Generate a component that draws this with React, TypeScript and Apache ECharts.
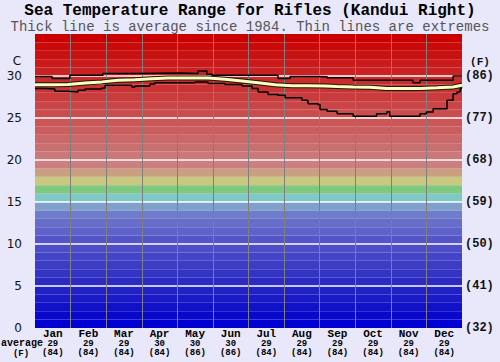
import React, { useEffect, useRef } from "react";
import * as echarts from "echarts";

const months = ["Jan", "Feb", "Mar", "Apr", "May", "Jun", "Jul", "Aug", "Sep", "Oct", "Nov", "Dec"];
const monthAvgC = [29, 29, 29, 30, 30, 30, 29, 29, 29, 29, 29, 29];
const monthAvgF = [84, 84, 84, 84, 86, 86, 84, 84, 84, 84, 84, 84];
const fahrenheitTicks = ["(32)", "(41)", "(50)", "(59)", "(68)", "(77)", "(86)"];

const maxPos = [0, 0.48, 0.98, 1.91, 2.81, 4.08, 4.58, 4.83, 4.97, 6.83, 7.17, 7.87, 8.21, 8.94, 10.62, 10.82, 11.75, 12];
const maxTemp = [29.95, 29.7, 30.08, 30.3, 30.35, 30.3, 30.6, 30.2, 30.1, 29.7, 29.95, 29.9, 29.8, 29.5, 29.2, 29.5, 30.0, 30.0];

const avgPos = [0, 0.56, 0.93, 1.41, 1.88, 2.33, 2.81, 3.29, 3.74, 4.08, 4.86, 5.34, 5.82, 6.27, 6.75, 7.22, 7.67, 8.15, 8.49, 8.94, 9.42, 9.89, 10.34, 10.82, 11.3, 11.75, 12];
const avgTemp = [28.97, 28.97, 29.0, 29.17, 29.3, 29.5, 29.55, 29.68, 29.75, 29.75, 29.75, 29.6, 29.4, 29.2, 28.95, 28.85, 28.85, 28.8, 28.75, 28.7, 28.65, 28.5, 28.5, 28.5, 28.6, 28.7, 28.9];

const minPos = [0, 0.28, 0.56, 0.93, 1.21, 1.41, 1.88, 1.97, 2.61, 2.72, 2.81, 3.23, 3.37, 4.41, 4.5, 4.86, 5.34, 5.82, 6.1, 6.27, 6.55, 6.83, 7.03, 7.5, 7.67, 7.95, 8.01, 8.21, 8.49, 8.94, 9.6, 9.89, 9.97, 10.82, 11.0, 11.19, 11.58, 11.75, 11.86, 11.95, 12];
const minTemp = [28.5, 28.45, 28.17, 28.1, 28.3, 28.45, 28.57, 28.9, 28.9, 28.7, 28.8, 29.05, 29.2, 29.2, 29.3, 29.1, 29.0, 28.8, 28.5, 28.1, 27.8, 27.7, 27.4, 27.1, 26.7, 26.6, 26.0, 25.8, 25.5, 25.2, 25.5, 25.75, 25.2, 25.5, 25.7, 26.1, 27.1, 27.9, 28.1, 28.5, 28.5];

const pair = (xs: number[], ys: number[]) => xs.map((x, i) => [x, ys[i]]);

function bandColor(t: number): string {
  if (t < 14) {
    const v = Math.round(t * 8.5);
    return `rgb(${v},${Math.round(v + (t > 10 ? (t - 10) * 4 : 0))},${t < 5 ? 208 - t * 3 : 195 + (t - 5)})`;
  }
  const mid: Record<number, string> = {
    14: "rgb(127,160,200)",
    15: "rgb(127,200,200)",
    16: "rgb(127,200,127)",
    17: "rgb(200,200,127)",
    18: "rgb(200,160,127)",
    19: "rgb(205,127,127)",
  };
  if (mid[t]) return mid[t];
  const g = Math.round((120 * (34 - t)) / 14);
  return `rgb(${202},${g},${g})`;
}

export default function App() {
  const ref = useRef<HTMLDivElement>(null);
  useEffect(() => {
    if (!ref.current) return;
    const chart = echarts.init(ref.current, undefined, { renderer: "svg" });
    const bands: any[] = [];
    for (let t = 0; t < 35; t++) {
      bands.push([{ yAxis: t, itemStyle: { color: bandColor(t) } }, { yAxis: t + 1 }]);
    }
    const gridLines: any[] = [];
    [5, 10, 15, 20, 25, 30].forEach((v) =>
      gridLines.push({ yAxis: v, lineStyle: { color: "#ffffff", width: 1.6, type: "solid" } })
    );
    for (let m = 1; m < 12; m++) {
      gridLines.push({ xAxis: m, lineStyle: { color: "#7f7f7f", width: 1, type: "solid" } });
    }
    const mono = "'Liberation Mono', 'DejaVu Sans Mono', monospace";
    chart.setOption({
      animation: false,
      backgroundColor: "#e8e8fa",
      title: [
        {
          text: "Sea Temperature Range for Rifles (Kandui Right)",
          left: "center",
          top: 3,
          padding: 0,
          textStyle: { fontFamily: mono, fontWeight: "bold", fontSize: 16, lineHeight: 16, color: "#000" },
        },
        {
          text: "Thick line is average since 1984. Thin lines are extremes",
          left: "center",
          top: 20,
          padding: 0,
          textStyle: { fontFamily: mono, fontWeight: "normal", fontSize: 14, lineHeight: 14, color: "#555" },
        },
      ],
      grid: { left: 35, right: 38, top: 34, bottom: 34 },
      xAxis: [
        {
          type: "category",
          data: months,
          boundaryGap: true,
          axisLine: { show: false },
          axisTick: { show: false },
          splitLine: { show: false },
          axisLabel: {
            margin: 1,
            interval: 0,
            formatter: (v: string, i: number) => `{m|${v}}\n{v|${monthAvgC[i]}}\n{v|(${monthAvgF[i]})}`,
            rich: {
              m: { fontFamily: mono, fontWeight: "bold", fontSize: 11, lineHeight: 10, color: "#000" },
              v: { fontFamily: mono, fontWeight: "bold", fontSize: 9, lineHeight: 9, color: "#000" },
            },
          },
        },
        { type: "value", min: 0, max: 12, show: false },
      ],
      yAxis: [
        {
          type: "value",
          min: 0,
          max: 35,
          interval: 5,
          position: "left",
          axisLine: { show: false },
          axisTick: { show: false },
          splitLine: { show: false },
          axisLabel: {
            margin: 13,
            fontFamily: "'DejaVu Sans', sans-serif",
            fontSize: 12,
            color: "#111",
            formatter: (v: number) => (v === 35 ? "" : String(v)),
          },
        },
        {
          type: "value",
          min: 0,
          max: 35,
          interval: 5,
          position: "right",
          axisLine: { show: false },
          axisTick: { show: false },
          splitLine: { show: false },
          axisLabel: {
            margin: 3,
            fontFamily: mono,
            fontWeight: "bold",
            fontSize: 12,
            color: "#111",
            formatter: (v: number) => (v === 35 ? "" : fahrenheitTicks[v / 5] || ""),
          },
        },
      ],
      graphic: [
        { type: "text", x: 17, y: 61, style: { text: "C", align: "center", verticalAlign: "middle", fontFamily: "'DejaVu Sans', sans-serif", fontSize: 12, fill: "#111" } },
        { type: "text", x: 480, y: 62, style: { text: "(F)", align: "center", verticalAlign: "middle", fontFamily: mono, fontWeight: "bold", fontSize: 11, fill: "#111" } },
        { type: "text", x: 22, y: 343.5, style: { text: "average", align: "center", verticalAlign: "middle", fontFamily: mono, fontWeight: "bold", fontSize: 10, fill: "#000" } },
        { type: "text", x: 21, y: 354, style: { text: "(F)", align: "center", verticalAlign: "middle", fontFamily: mono, fontWeight: "bold", fontSize: 9, fill: "#000" } },
      ],
      series: [
        {
          type: "line",
          xAxisIndex: 1,
          yAxisIndex: 0,
          data: [],
          silent: true,
          z: 1,
          markArea: { silent: true, itemStyle: { borderWidth: 0 }, data: bands },
          markLine: { silent: true, symbol: "none", label: { show: false }, data: gridLines },
        },
        {
          type: "line",
          xAxisIndex: 1,
          yAxisIndex: 0,
          data: pair(maxPos, maxTemp),
          step: "end",
          showSymbol: false,
          symbol: "none",
          lineStyle: { color: "#000", width: 1.5 },
          z: 10,
        },
        {
          type: "line",
          xAxisIndex: 1,
          yAxisIndex: 0,
          data: pair(minPos, minTemp),
          step: "end",
          showSymbol: false,
          symbol: "none",
          lineStyle: { color: "#000", width: 1.5 },
          z: 10,
        },
        {
          type: "line",
          xAxisIndex: 1,
          yAxisIndex: 0,
          data: pair(avgPos, avgTemp),
          showSymbol: false,
          symbol: "none",
          lineStyle: { color: "#1a1a00", width: 5 },
          z: 11,
        },
        {
          type: "line",
          xAxisIndex: 1,
          yAxisIndex: 0,
          data: pair(avgPos, avgTemp),
          showSymbol: false,
          symbol: "none",
          lineStyle: { color: "#ffffc4", width: 3 },
          z: 12,
        },
      ],
    });
    return () => chart.dispose();
  }, []);
  return <div ref={ref} style={{ position: "absolute", left: 0, top: 0, width: 500, height: 362 }} />;
}
